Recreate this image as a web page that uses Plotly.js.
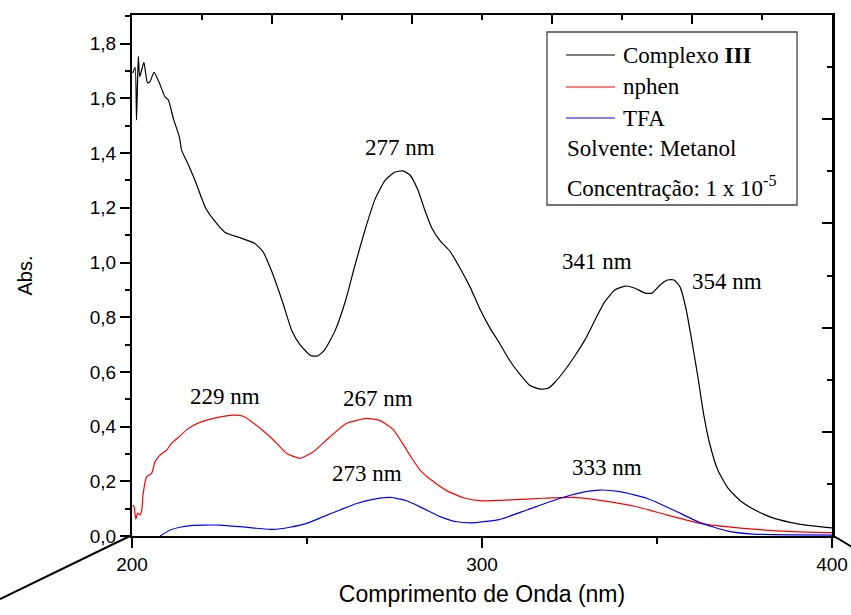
<!DOCTYPE html>
<html>
<head>
<meta charset="utf-8">
<script src="https://cdn.plot.ly/plotly-3.0.1.min.js"></script>
<style>html,body{margin:0;padding:0;background:#fff;}#chart{width:851px;height:615px;}</style>
</head>
<body>
<div id="chart"></div>
<script>
// Complexo III (black)
const blackX = [200.2, 200.9, 201.3, 201.8, 202.2, 203.4, 204.4, 205.1, 206.3, 207.8, 209.4, 210.4, 211.8, 213.5, 214.2, 216, 218, 221, 223.7, 226.6, 231, 235, 237.4, 240, 242.9, 245.7, 248, 251, 253, 255, 258, 261, 263.7, 266.6, 269.4, 272.3, 275, 277.4, 279.4, 281.7, 283.7, 285.7, 288, 290.9, 293.7, 296.6, 299.4, 302.3, 305, 308, 310.9, 313.7, 316.6, 318.9, 320.9, 323.7, 326.6, 329.4, 332.3, 335, 338, 340.9, 343.7, 346.6, 348.6, 350.9, 353, 354.9, 356.6, 358.3, 360, 361.7, 363.4, 365, 367.4, 370.3, 373.7, 378, 382.3, 388, 393.7, 400];
const blackY = [1.693, 1.714, 1.521, 1.755, 1.679, 1.732, 1.657, 1.661, 1.695, 1.657, 1.606, 1.594, 1.527, 1.46, 1.41, 1.36, 1.30, 1.2, 1.15, 1.11, 1.09, 1.07, 1.04, 0.965, 0.86, 0.75, 0.70, 0.66, 0.658, 0.68, 0.75, 0.86, 0.99, 1.12, 1.23, 1.30, 1.33, 1.335, 1.32, 1.265, 1.19, 1.125, 1.08, 1.04, 0.98, 0.91, 0.83, 0.76, 0.705, 0.64, 0.59, 0.55, 0.537, 0.54, 0.563, 0.607, 0.66, 0.717, 0.79, 0.855, 0.9, 0.914, 0.906, 0.888, 0.888, 0.918, 0.936, 0.936, 0.91, 0.83, 0.71, 0.58, 0.44, 0.34, 0.24, 0.175, 0.13, 0.095, 0.07, 0.05, 0.038, 0.03];
// nphen (red)
const redX = [200.2, 200.6, 201.1, 201.6, 202.3, 202.8, 203.2, 204.2, 205.6, 206.6, 208, 209.9, 211.3, 213.7, 215.6, 217.5, 220.4, 224.2, 228.9, 231.8, 236.6, 240.4, 244.2, 248, 251.8, 256.6, 261.3, 267.1, 270.9, 274.7, 278.5, 282.3, 286.1, 289.9, 294.7, 299.4, 308, 317.5, 326, 336.6, 344.2, 352.8, 362.3, 374.7, 389, 400];
const redY = [0.113, 0.107, 0.061, 0.083, 0.077, 0.095, 0.156, 0.217, 0.229, 0.272, 0.296, 0.314, 0.339, 0.366, 0.388, 0.404, 0.42, 0.433, 0.442, 0.438, 0.394, 0.351, 0.302, 0.284, 0.308, 0.363, 0.412, 0.43, 0.422, 0.388, 0.314, 0.241, 0.199, 0.166, 0.14, 0.129, 0.132, 0.138, 0.141, 0.125, 0.107, 0.077, 0.046, 0.028, 0.016, 0.012];
// TFA (blue)
const blueX = [208, 210.9, 213.7, 217.5, 220.4, 225.1, 230.9, 235, 240.4, 245.1, 249.9, 254.7, 259.4, 264.2, 268.9, 273.7, 278.5, 283.2, 288, 292.8, 297.5, 305.1, 312.8, 322.3, 328, 333.7, 339.4, 347.1, 354.7, 362.3, 369.9, 377.5, 389, 400];
const blueY = [0, 0.022, 0.032, 0.039, 0.04, 0.04, 0.034, 0.029, 0.024, 0.032, 0.046, 0.071, 0.095, 0.119, 0.134, 0.141, 0.129, 0.101, 0.071, 0.052, 0.048, 0.061, 0.095, 0.138, 0.158, 0.168, 0.162, 0.138, 0.095, 0.049, 0.019, 0.007, 0.004, 0.003];

const seriesNames = ["Complexo <b>III</b>", "nphen", "TFA"];
const seriesColors = ["#000000", "#ff0000", "#0000ff"];
const peakLabels = ["277 nm", "341 nm", "354 nm", "229 nm", "267 nm", "273 nm", "333 nm"];
const peakLabelX = [276.6, 332.9, 370.0, 226.6, 270.3, 267.1, 335.6];
const peakLabelY = [1.422, 1.002, 0.932, 0.509, 0.501, 0.227, 0.251];
const noteLines = ["Solvente: Metanol", "Concentração: 1 x 10<sup>-5</sup>"];

const serif = "Liberation Serif, Times New Roman, serif";
const sans = "Liberation Sans, Arial, sans-serif";

const xs = [blackX, redX, blueX];
const ys = [blackY, redY, blueY];
const traces = xs.map((x, i) => ({
  x: x, y: ys[i], type: "scatter", mode: "lines", name: seriesNames[i],
  line: {color: seriesColors[i], width: 1.2, shape: "spline", smoothing: 0.5},
  showlegend: false, hoverinfo: "skip"
}));
// frame axes (top / right) carrier trace
traces.push({x: [], y: [], xaxis: "x2", yaxis: "y2", type: "scatter", mode: "lines", showlegend: false, hoverinfo: "skip"});

const px = v => (v - 132) / 700;
const py = v => (536 - v) / 521;

const shapes = [
  {type: "line", xref: "paper", yref: "paper", x0: px(132), y0: py(535), x1: px(0), y1: py(599), line: {color: "#000", width: 2}},
  {type: "line", xref: "paper", yref: "paper", x0: px(832), y0: py(535), x1: px(862), y1: py(553), line: {color: "#000", width: 2}},
  {type: "rect", xref: "paper", yref: "paper", x0: px(547), y0: py(205), x1: px(797), y1: py(32), line: {color: "#444", width: 1.3}, fillcolor: "rgba(0,0,0,0)"}
];
const rows = [55, 87, 118];
const annotations = [];
rows.forEach((r, i) => {
  shapes.push({type: "line", xref: "paper", yref: "paper", x0: px(566), x1: px(615), y0: py(r), y1: py(r), line: {color: seriesColors[i], width: 1.2}});
  annotations.push({xref: "paper", yref: "paper", x: px(621), y: py(r), xanchor: "left", yanchor: "middle", text: seriesNames[i], showarrow: false, font: {family: serif, size: 23, color: "#000"}});
});
annotations.push({xref: "paper", yref: "paper", x: px(565), y: py(148), xanchor: "left", yanchor: "middle", text: noteLines[0], showarrow: false, font: {family: serif, size: 23, color: "#000"}});
annotations.push({xref: "paper", yref: "paper", x: px(565), y: py(186), xanchor: "left", yanchor: "middle", text: noteLines[1], showarrow: false, font: {family: serif, size: 23, color: "#000"}});
peakLabels.forEach((t, i) => {
  annotations.push({xref: "x", yref: "y", x: peakLabelX[i], y: peakLabelY[i], text: t, showarrow: false, xanchor: "center", yanchor: "middle", font: {family: serif, size: 23, color: "#000"}});
});

const layout = {
  width: 851, height: 615,
  margin: {l: 132, r: 19, t: 15, b: 79, pad: 0},
  paper_bgcolor: "#fff", plot_bgcolor: "#fff",
  separators: ",.",
  showlegend: false,
  font: {family: sans, color: "#000"},
  xaxis: {
    range: [200, 400], dtick: 100, tick0: 200, ticks: "outside", ticklen: 10, tickwidth: 2, tickcolor: "#000",
    minor: {dtick: 50, ticks: "outside", ticklen: 6, tickwidth: 2, tickcolor: "#000"},
    showline: true, linecolor: "#000", linewidth: 2, showgrid: false, zeroline: false,
    tickfont: {family: sans, size: 19, color: "#000"},
    title: {text: "Comprimento de Onda (nm)", font: {family: sans, size: 23, color: "#000"}, standoff: 12}
  },
  yaxis: {
    range: [0, 1.905], dtick: 0.2, tick0: 0, tickformat: ".1f", ticks: "outside", ticklen: 10, tickwidth: 2, tickcolor: "#000",
    minor: {dtick: 0.1, ticks: "outside", ticklen: 5, tickwidth: 2, tickcolor: "#000"},
    showline: true, linecolor: "#000", linewidth: 2, showgrid: false, zeroline: false,
    tickfont: {family: sans, size: 19, color: "#000"},
    title: {text: "Abs.", font: {family: sans, size: 20, color: "#000"}, standoff: 52}
  },
  xaxis2: {
    overlaying: "x", side: "top", anchor: "y2", range: [0, 5], dtick: 1, tick0: 0,
    ticks: "inside", ticklen: 9, tickwidth: 2, tickcolor: "#000", showticklabels: false,
    minor: {dtick: 0.5, ticks: "inside", ticklen: 5, tickwidth: 2, tickcolor: "#000"},
    showline: true, linecolor: "#000", linewidth: 2.5, showgrid: false, zeroline: false
  },
  yaxis2: {
    overlaying: "y", side: "right", anchor: "x2", range: [0, 5], dtick: 1, tick0: 0,
    ticks: "inside", ticklen: 10, tickwidth: 2, tickcolor: "#000", showticklabels: false,
    minor: {dtick: 0.5, ticks: "inside", ticklen: 5, tickwidth: 2, tickcolor: "#000"},
    showline: true, linecolor: "#000", linewidth: 2.5, showgrid: false, zeroline: false
  },
  shapes: shapes,
  annotations: annotations
};

Plotly.newPlot("chart", traces, layout, {staticPlot: true, displayModeBar: false});
</script>
</body>
</html>
